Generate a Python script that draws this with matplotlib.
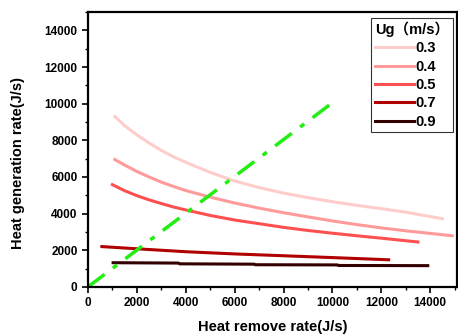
import matplotlib
matplotlib.use("Agg")
import matplotlib.pyplot as plt
from matplotlib.ticker import MultipleLocator

plt.rcParams['font.family'] = ['Liberation Sans', 'Noto Sans CJK SC', 'DejaVu Sans']
plt.rcParams['font.weight'] = 'bold'

# heat generation curves, one per gas velocity
ug_labels = ["0.3", "0.4", "0.5", "0.7", "0.9"]
x_03 = [1100, 1500, 2000, 2500, 3000, 3500, 4000, 5000, 6000, 7000, 8000, 9000, 10000, 11000, 12000, 13000, 14500]
y_03 = [9300, 8800, 8300, 7850, 7450, 7100, 6800, 6250, 5780, 5420, 5120, 4870, 4650, 4450, 4270, 4080, 3720]
x_04 = [1100, 1500, 2000, 2500, 3000, 3500, 4000, 5000, 6000, 7000, 8000, 9000, 10000, 11000, 12000, 13000, 14000, 14900]
y_04 = [6950, 6650, 6300, 6000, 5720, 5480, 5260, 4900, 4580, 4300, 4050, 3820, 3600, 3400, 3220, 3060, 2920, 2790]
x_05 = [1000, 1500, 2000, 2500, 3000, 3500, 4000, 5000, 6000, 7000, 8000, 9000, 10000, 11000, 12000, 13000, 13500]
y_05 = [5580, 5250, 4980, 4750, 4550, 4360, 4200, 3900, 3650, 3450, 3250, 3080, 2930, 2790, 2660, 2520, 2450]
x_07 = [570, 2000, 4000, 6000, 8000, 10000, 12300]
y_07 = [2200, 2080, 1920, 1800, 1700, 1600, 1480]
x_09 = [1030, 3700, 3750, 6800, 6850, 10200, 10250, 13900]
y_09 = [1320, 1300, 1260, 1240, 1210, 1200, 1170, 1160]

# heat removal line
x_rem = [0, 10000]
y_rem = [0, 10050]

colors = ["#ffcccc", "#ff9a9a", "#ff5050", "#b00000", "#330000"]
xs = [x_03, x_04, x_05, x_07, x_09]
ys = [y_03, y_04, y_05, y_07, y_09]

fig = plt.figure(figsize=(4.58, 3.34), dpi=100)
ax = fig.add_axes([0.192, 0.141, 0.806, 0.823])

for x, y, c, lab in zip(xs, ys, colors, ug_labels):
    ax.plot(x, y, color=c, lw=2.2, label=lab)

ax.plot(x_rem, y_rem, color="#22ee11", lw=2.5, ls=(0, (6, 3, 1.5, 3)))

ax.set_xlim(0, 15100)
ax.set_ylim(0, 15000)
ax.xaxis.set_major_locator(MultipleLocator(2000))
ax.xaxis.set_minor_locator(MultipleLocator(1000))
ax.yaxis.set_major_locator(MultipleLocator(2000))
ax.yaxis.set_minor_locator(MultipleLocator(1000))
ax.tick_params(which='major', direction='out', length=4, width=1.2, labelsize=8.5)
ax.tick_params(which='minor', direction='out', length=2.5, width=1.0)
for lbl in ax.get_xticklabels() + ax.get_yticklabels():
    lbl.set_fontweight('bold')
for sp in ax.spines.values():
    sp.set_linewidth(1.6)

ax.set_xlabel("Heat remove rate(J/s)", fontsize=10.5, fontweight='bold', labelpad=8)
ax.set_ylabel("Heat generation rate(J/s)", fontsize=10.5, fontweight='bold', labelpad=6)
ax.yaxis.set_label_coords(-0.17, 0.45)

leg = ax.legend(title="Ug（m/s）", loc='upper right', frameon=True, fancybox=False,
                edgecolor='black', fontsize=10.5, title_fontsize=10.5, handlelength=2.7,
                handletextpad=0.1, labelspacing=0.3, borderpad=0.25, borderaxespad=0.3,
                bbox_to_anchor=(1.0, 0.995))
leg.get_frame().set_linewidth(0.8)
leg._legend_box.align = "left"
leg.get_title().set_fontweight('bold')
for t in leg.get_texts():
    t.set_fontweight('bold')

fig.savefig("out.png", dpi=100)
